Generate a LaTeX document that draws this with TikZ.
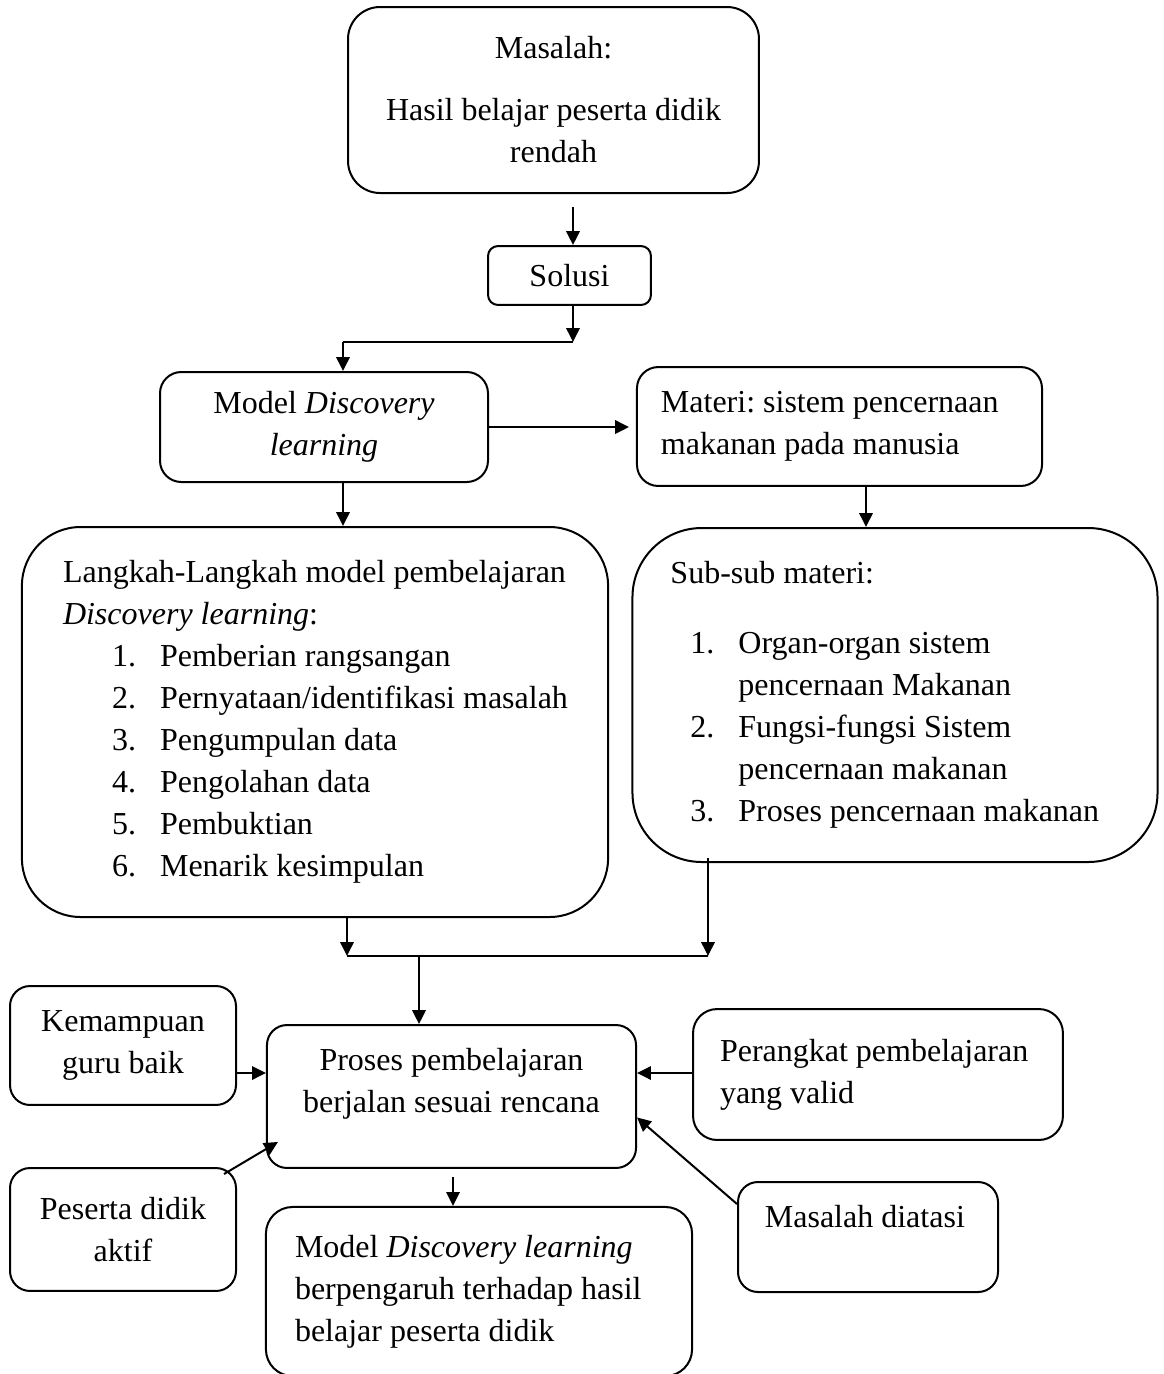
\documentclass[tikz,border=0pt]{standalone}
\usepackage{fontspec}
\setmainfont{Liberation Serif}
\usepackage{tikz}
\usetikzlibrary{arrows.meta,positioning,calc}
\frenchspacing

\newcommand{\numitem}[3]{\mbox{\hspace*{#1}\makebox[18pt][l]{#2}#3}}

\begin{document}
\begin{tikzpicture}[
  x=0.375pt, y=-0.375pt,
  >={Triangle[length=5.2pt,width=5pt]},
  every node/.style={font=\fontsize{12}{15.75}\selectfont},
  box/.style={rectangle, draw, line width=0.75pt, rounded corners=7.5pt,
    inner sep=0pt, align=center},
  lbox/.style={box, align=flush left},
  arr/.style={->, line width=0.75pt},
  conn/.style={line width=0.75pt},
]
\useasboundingbox (0,0) rectangle (1164,1374);

% === Masalah & Solusi ===
\node[box, rounded corners=12pt, minimum width=154.1pt, minimum height=69.75pt] (masalah) at (553.5,100)
  {Masalah:\\[7.5pt] Hasil belajar peserta didik\\ rendah};
\node[box, rounded corners=3.75pt, minimum width=61.1pt, minimum height=22.1pt] (solusi) at (569.5,275.5) {Solusi};

% === Model & Materi ===
\node[box, rounded corners=8pt, minimum width=123pt, minimum height=41.25pt] (model) at (324,427)
  {Model \textit{Discovery}\\ \textit{learning}};
\node[lbox, rounded corners=8pt, inner xsep=9pt, text width=133.9pt, minimum height=44.6pt] (materi) at (839.5,426.5)
  {Materi: sistem pencernaan\\ makanan pada manusia};

% === Langkah-langkah & Sub-sub materi ===
\node[lbox, rounded corners=22pt, inner xsep=15.4pt, text width=189pt, minimum height=146.25pt] (langkah) at (315,722)
  {\mbox{Langkah-Langkah model pembelajaran}\\
   \textit{Discovery learning}:\\
   \numitem{18.4pt}{1.}{Pemberian rangsangan}\\
   \numitem{18.4pt}{2.}{Pernyataan/identifikasi masalah}\\
   \numitem{18.4pt}{3.}{Pengumpulan data}\\
   \numitem{18.4pt}{4.}{Pengolahan data}\\
   \numitem{18.4pt}{5.}{Pembuktian}\\
   \numitem{18.4pt}{6.}{Menarik kesimpulan}};
\node[lbox, rounded corners=26pt, inner xsep=14.25pt, text width=168.4pt, minimum height=125.25pt] (subsub) at (895,695)
  {Sub-sub materi:\\[10.5pt]
   \numitem{7.5pt}{1.}{Organ-organ sistem}\\
   \numitem{7.5pt}{}{pencernaan Makanan}\\
   \numitem{7.5pt}{2.}{Fungsi-fungsi Sistem}\\
   \numitem{7.5pt}{}{pencernaan makanan}\\
   \numitem{7.5pt}{3.}{Proses pencernaan makanan}};

% === Proses pembelajaran and its inputs ===
\node[box, minimum width=84.75pt, minimum height=44.6pt] (kemampuan) at (123,1045.5) {Kemampuan\\ guru baik};
\node[box, minimum width=138.4pt, minimum height=53.6pt] (proses) at (451.5,1096.5)
  {Proses pembelajaran\\ berjalan sesuai rencana\\[-3.4pt] \mbox{}};
\node[lbox, rounded corners=9pt, inner xsep=10.1pt, text width=118.5pt, minimum height=49.1pt] (perangkat) at (878,1074.5)
  {Perangkat pembelajaran\\ yang valid};
\node[box, minimum width=84.75pt, minimum height=46.1pt] (peserta) at (123,1229.5) {Peserta didik\\ aktif};
\node[lbox, inner xsep=10.1pt, text width=77.3pt, minimum height=41.25pt] (diatasi) at (868,1237)
  {\mbox{Masalah diatasi}\\ \mbox{}};

% === Output ===
\node[lbox, rounded corners=10pt, inner xsep=10.9pt, text width=138pt, minimum height=63.4pt] (hasil) at (479,1291.5)
  {Model \textit{Discovery learning}\\ berpengaruh terhadap hasil\\ belajar peserta didik};

% === Arrows: top ===
\coordinate (a0) at (573,207);
\coordinate (j1) at (573,342);
\coordinate (j2) at (343,342);
\draw[arr] (a0) -- (a0 |- solusi.north);
\draw[arr] (j1 |- solusi.south) -- (j1);
\draw[conn] (j1) -- (j2);
\draw[arr] (j2) -- (j2 |- model.north);
\draw[arr, shorten >=2.6pt] (model.east) -- (materi.west |- model.east);
\draw[arr] (j2 |- model.south) -- (j2 |- langkah.north);
\coordinate (m1) at (866,487);
\draw[arr] (m1) -- (m1 |- subsub.north);

% === Arrows: merge ===
\coordinate (mL) at (347,956);
\coordinate (mR) at (708,956);
\coordinate (mR0) at (708,858);
\coordinate (mC) at (419,956);
\draw[arr] (langkah.south -| mL) -- (mL);
\draw[arr] (mR0) -- (mR);
\draw[conn] (mL) -- (mR);
\draw[arr] (mC) -- (mC |- proses.north);

% === Arrows: inputs ===
\coordinate (k) at (0,1073);
\draw[arr] (kemampuan.east |- k) -- (proses.west |- k);
\draw[arr] (perangkat.west |- k) -- (proses.east |- k);
\draw[arr] ($(peserta.north east)+(-13,7)$) -- ($(proses.south west)+(12,-27)$);
\draw[arr] ($(diatasi.north west)+(0,23)$) -- ($(proses.east)+(0,21)$);
\coordinate (r0) at (453,1177);
\draw[arr] (r0) -- (r0 |- hasil.north);

\end{tikzpicture}
\end{document}
